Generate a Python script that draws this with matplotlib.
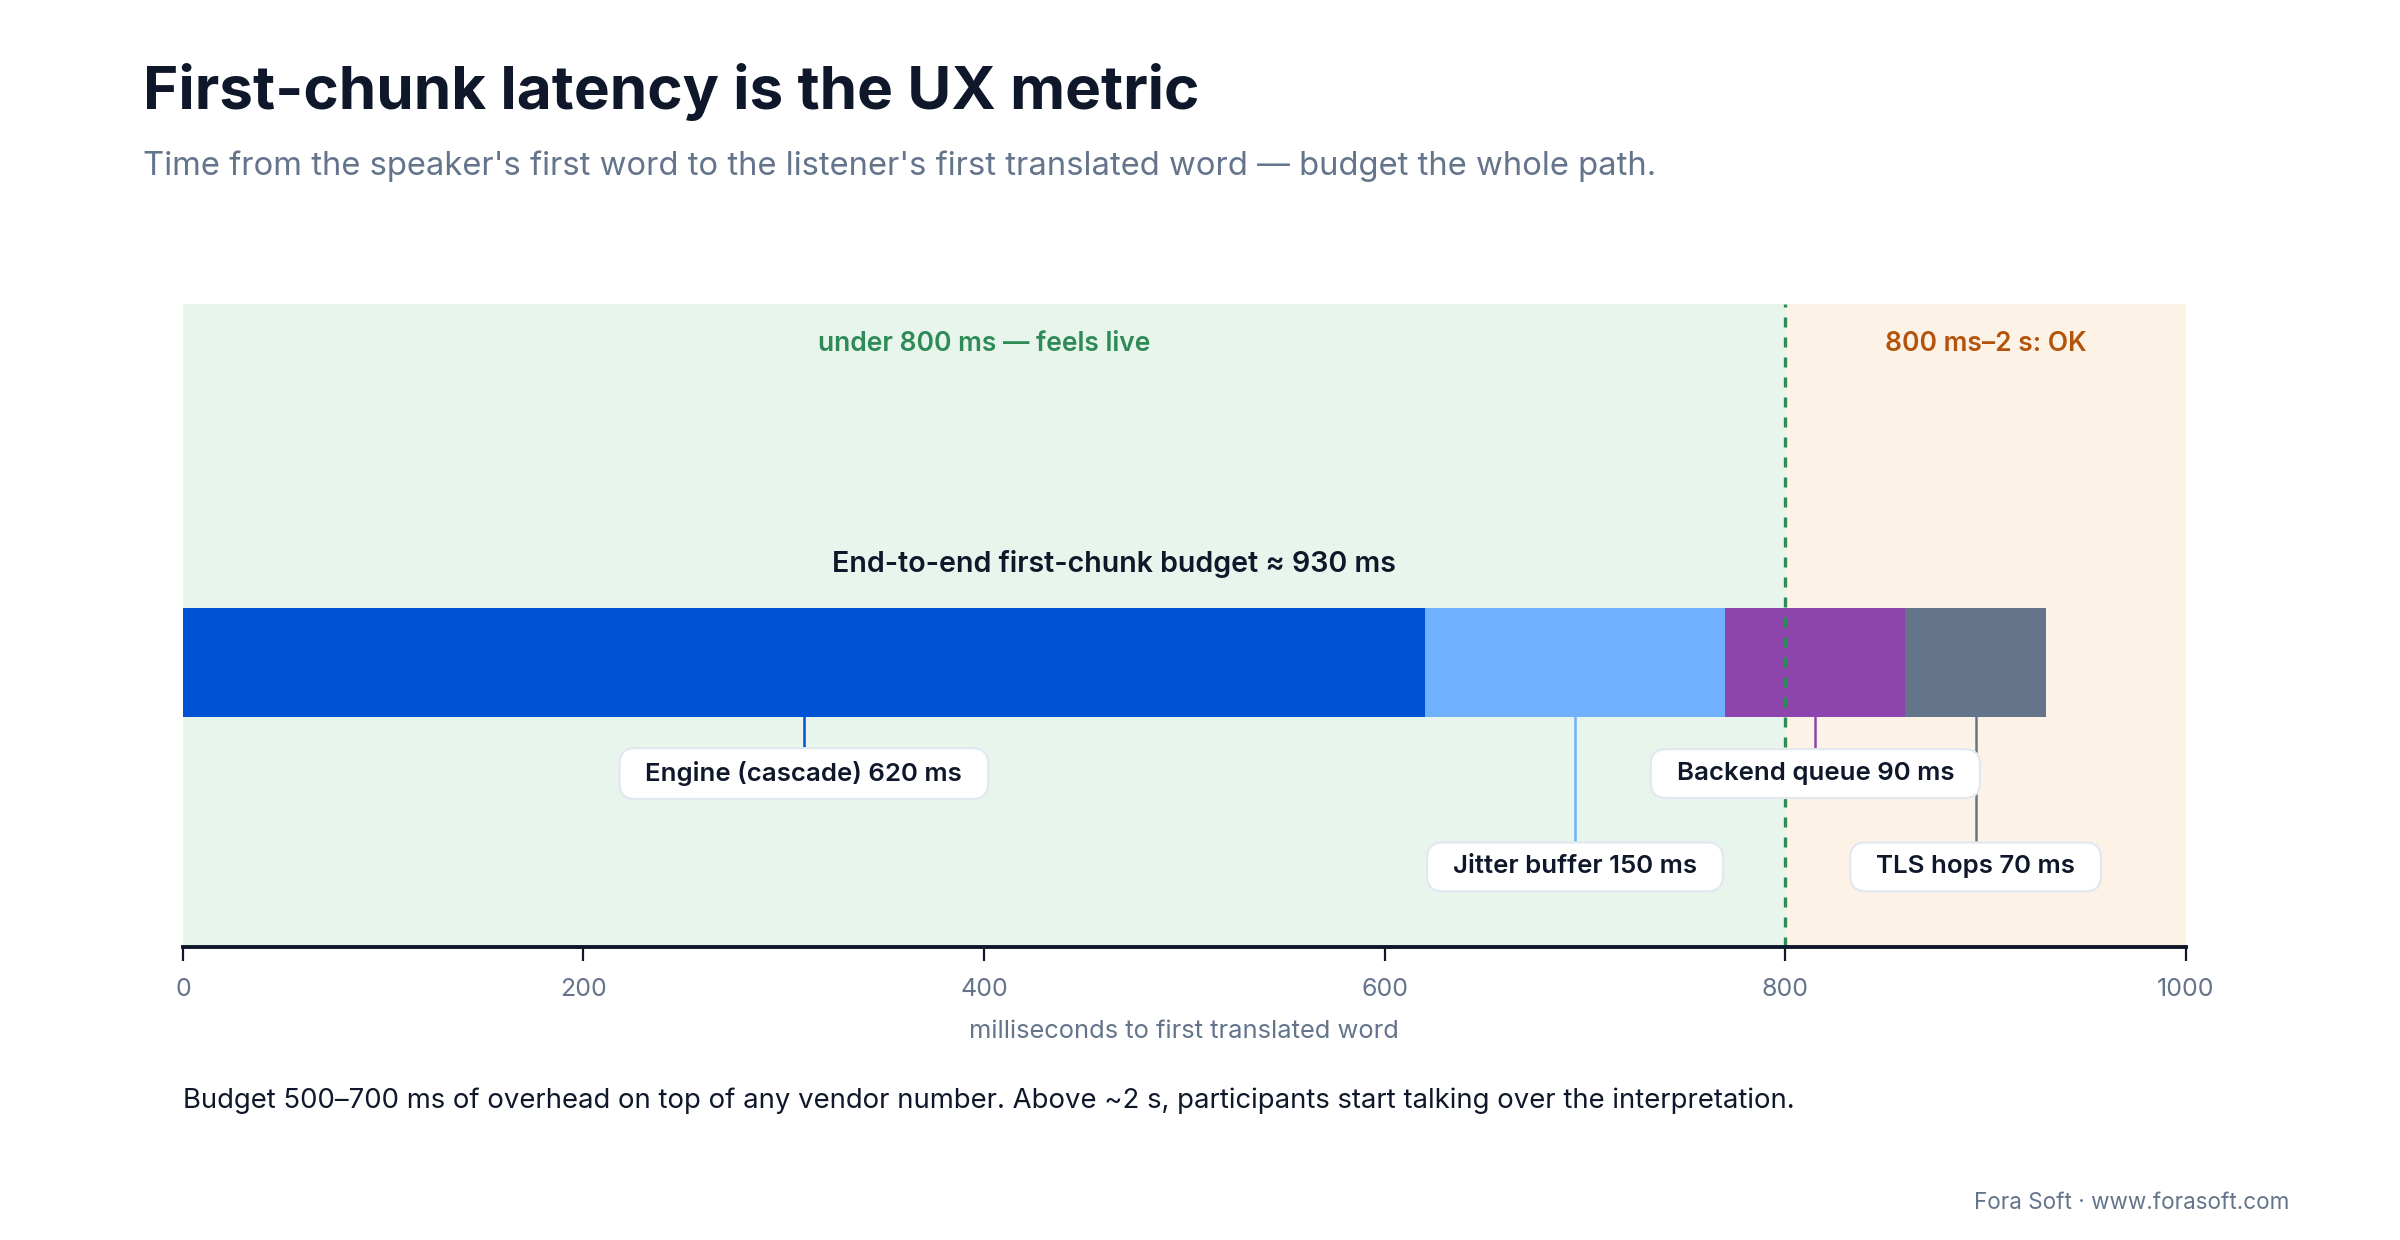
import matplotlib.pyplot as plt

# data
segments = ["Engine (cascade)", "Jitter buffer", "Backend queue", "TLS hops"]
durations = [620, 150, 90, 70]
seg_colors = ["#0052d4", "#6fb1ff", "#8e44ad", "#64748b"]
label_rows = [0, 1, 0, 1]  # 0 = upper label row, 1 = lower

zone_edges = [0, 800, 1000]
zone_names = ["under 800 ms \u2014 feels live", "800 ms\u20132 s: OK"]
zone_fill = ["#e8f5ec", "#fdf2e6"]
zone_text = ["#2e8b57", "#b4530c"]

ticks = [0, 200, 400, 600, 800, 1000]

plt.rcParams['font.family'] = ['Inter', 'DejaVu Sans']

DARK = "#0f172a"
GRAY = "#64748b"

fig = plt.figure(figsize=(12, 6.2), dpi=200)
fig.patch.set_facecolor("white")
ax = fig.add_axes([0.0762, 0.236, 0.8346, 0.519])
ax.set_xlim(zone_edges[0], zone_edges[-1])
ax.set_ylim(0, 1)

# zones
for i in range(len(zone_names)):
    ax.axvspan(zone_edges[i], zone_edges[i + 1], color=zone_fill[i], lw=0, zorder=0)
    ax.text((zone_edges[i] + zone_edges[i + 1]) / 2, 0.937, zone_names[i],
            ha="center", va="center", fontsize=9.5, fontweight="semibold",
            color=zone_text[i], zorder=3)

ax.axvline(zone_edges[1], color="#2e8b57", lw=1.2, ls=(0, (3, 3)), zorder=2)

# stacked bar
bar_y, bar_h = 0.443, 0.169
left = 0
row_y = [0.270, 0.125]
for name, d, c, r in zip(segments, durations, seg_colors, label_rows):
    ax.barh(bar_y, d, left=left, height=bar_h, color=c, lw=0, zorder=1)
    mid = left + d / 2
    ax.plot([mid, mid], [bar_y - bar_h / 2, row_y[r]], color=c, lw=0.9, zorder=1.5)
    ax.text(mid, row_y[r], f"  {name} {d} ms  ", ha="center", va="center",
            fontsize=9.3, fontweight="semibold", color=DARK, zorder=4,
            bbox=dict(boxstyle="round,pad=0.5,rounding_size=0.6", fc="white",
                      ec="#e2e8f0", lw=0.8))
    left += d

total = sum(durations)
ax.text(total / 2, 0.595, f"End-to-end first-chunk budget \u2248 {total} ms",
        ha="center", va="center", fontsize=10.3, fontweight="semibold", color=DARK, zorder=3)

# axes styling
for s in ["top", "right", "left"]:
    ax.spines[s].set_visible(False)
ax.spines["bottom"].set_color(DARK)
ax.spines["bottom"].set_linewidth(1.4)
ax.set_yticks([])
ax.set_xticks(ticks)
ax.tick_params(axis="x", length=5, width=0.8, color=DARK, labelcolor=GRAY,
               labelsize=9, pad=6)
ax.set_xlabel("milliseconds to first translated word", fontsize=9.2, color=GRAY, labelpad=7)

# titles and notes
fig.text(0.0594, 0.926, "First-chunk latency is the UX metric", fontsize=21.7,
         fontweight="bold", color=DARK, va="center", ha="left")
fig.text(0.0594, 0.866, "Time from the speaker's first word to the listener's first translated word \u2014 budget the whole path.",
         fontsize=11.8, color=GRAY, va="center", ha="left")
fig.text(0.0762, 0.1125, "Budget 500\u2013700 ms of overhead on top of any vendor number. Above ~2 s, participants start talking over the interpretation.",
         fontsize=9.9, color=DARK, va="center", ha="left")
fig.text(0.954, 0.03, "Fora Soft \u00b7 www.forasoft.com", fontsize=8.1, color=GRAY,
         va="center", ha="right")

fig.savefig("out.png", dpi=200, facecolor="white")
